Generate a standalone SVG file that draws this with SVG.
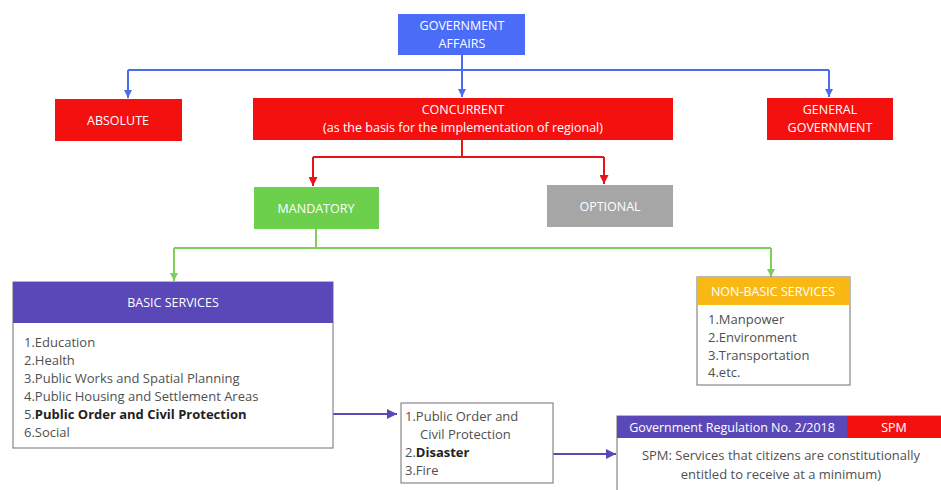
<svg xmlns="http://www.w3.org/2000/svg" width="941" height="490" viewBox="0 0 941 490">
<defs>
<style>
text{font-family:"Open Sans","Liberation Sans",sans-serif;}
.hd{fill:#ffffff;font-size:12.5px;text-anchor:middle;}
.it{fill:#505050;font-size:13px;}
.b{font-weight:bold;fill:#222222;}
.box{fill:#ffffff;stroke:#888888;stroke-width:1.2;}
.cb{stroke:#4a6cf0;stroke-width:2;fill:none;}
.cr{stroke:#e8141b;stroke-width:2;fill:none;}
.cg{stroke:#7ccf5a;stroke-width:2;fill:none;}
.cp{stroke:#5a48b8;stroke-width:2.2;fill:none;}
</style>
<marker id="ar" viewBox="0 0 10 10" refX="10" refY="5" markerWidth="9" markerHeight="9" markerUnits="userSpaceOnUse" orient="auto"><path d="M0,0L10,5L0,10z" fill="#e8141b"/></marker>
<marker id="ag" viewBox="0 0 10 10" refX="10" refY="5" markerWidth="8" markerHeight="8" markerUnits="userSpaceOnUse" orient="auto"><path d="M0,0L10,5L0,10z" fill="#7ccf5a"/></marker>
<marker id="ap" viewBox="0 0 10 10" refX="10" refY="5" markerWidth="10" markerHeight="10" markerUnits="userSpaceOnUse" orient="auto"><path d="M0,0L10,5L0,10z" fill="#5a48b8"/></marker>
<marker id="abl" viewBox="0 0 10 10" refX="10" refY="5" markerWidth="8" markerHeight="8" markerUnits="userSpaceOnUse" orient="auto"><path d="M0,0L10,5L0,10z" fill="#4a6cf0"/></marker>
</defs>
<rect width="941" height="490" fill="#ffffff"/>
<g id="connectors">
<path class="cb" d="M462,55V70"/>
<path class="cb" d="M128,70H829"/>
<path class="cb" d="M128,70V98" marker-end="url(#abl)"/>
<path class="cb" d="M462,70V97" marker-end="url(#abl)"/>
<path class="cb" d="M829,70V97" marker-end="url(#abl)"/>
<path class="cr" d="M462,140V157"/>
<path class="cr" d="M313,157H604"/>
<path class="cr" d="M313,157V186" marker-end="url(#ar)"/>
<path class="cr" d="M604,157V184" marker-end="url(#ar)"/>
<path class="cg" d="M316,229V248"/>
<path class="cg" d="M174,248H771"/>
<path class="cg" d="M174,248V281" marker-end="url(#ag)"/>
<path class="cg" d="M771,248V277" marker-end="url(#ag)"/>
<path class="cp" d="M255,414H397" marker-end="url(#ap)"/>
<path class="cp" d="M494,454H616" marker-end="url(#ap)"/>
</g>
<g id="government-affairs">
<rect x="398" y="14" width="127" height="41" fill="#4a6cf7"/>
<text class="hd" x="462" y="30">GOVERNMENT</text>
<text class="hd" x="462" y="48">AFFAIRS</text>
</g>
<g id="absolute">
<rect x="55" y="99" width="127" height="42" fill="#f51010"/>
<text class="hd" x="118" y="125">ABSOLUTE</text>
</g>
<g id="concurrent">
<rect x="253" y="98" width="420" height="42" fill="#f51010"/>
<text class="hd" x="463" y="114">CONCURRENT</text>
<text class="hd" x="463" y="132">(as the basis for the implementation of regional)</text>
</g>
<g id="general-government">
<rect x="767" y="98" width="126" height="42" fill="#f51010"/>
<text class="hd" x="830" y="114">GENERAL</text>
<text class="hd" x="830" y="132">GOVERNMENT</text>
</g>
<g id="mandatory">
<rect x="254" y="187" width="125" height="42" fill="#6cd04c"/>
<text class="hd" x="316" y="213">MANDATORY</text>
</g>
<g id="optional">
<rect x="547" y="185" width="126" height="42" fill="#a6a6a6"/>
<text class="hd" x="610" y="211">OPTIONAL</text>
</g>
<g id="basic-services">
<rect class="box" x="13" y="282" width="320" height="166"/>
<rect x="13" y="282" width="320" height="41" fill="#5a48b8"/>
<text class="hd" x="173" y="307">BASIC SERVICES</text>
<text class="it" x="24" y="347">1.Education</text>
<text class="it" x="24" y="365">2.Health</text>
<text class="it" x="24" y="383">3.Public Works and Spatial Planning</text>
<text class="it" x="24" y="401">4.Public Housing and Settlement Areas</text>
<text class="it" x="24" y="419">5.<tspan class="b">Public Order and Civil Protection</tspan></text>
<text class="it" x="24" y="437">6.Social</text>
</g>
<g id="non-basic-services">
<rect class="box" x="697" y="277" width="153" height="108"/>
<rect x="697" y="277" width="153" height="28" fill="#f9b814"/>
<text class="hd" x="773" y="296">NON-BASIC SERVICES</text>
<text class="it" x="708" y="324">1.Manpower</text>
<text class="it" x="708" y="342">2.Environment</text>
<text class="it" x="708" y="360">3.Transportation</text>
<text class="it" x="708" y="377">4.etc.</text>
</g>
<g id="sub-list">
<rect class="box" x="401" y="403" width="152" height="80"/>
<text class="it" x="405" y="421">1.Public Order and</text>
<text class="it" x="420" y="439">Civil Protection</text>
<text class="it" x="405" y="457">2.<tspan class="b">Disaster</tspan></text>
<text class="it" x="405" y="475">3.Fire</text>
</g>
<g id="regulation">
<rect class="box" x="617" y="416" width="330" height="80"/>
<rect x="617" y="416" width="230" height="22" fill="#5a48b8"/>
<rect x="847" y="416" width="94" height="22" fill="#f51010"/>
<text class="hd" x="732" y="432">Government Regulation No. 2/2018</text>
<text class="hd" x="894" y="432">SPM</text>
<text class="it" x="781" y="460" text-anchor="middle">SPM: Services that citizens are constitutionally</text>
<text class="it" x="781" y="479" text-anchor="middle">entitled to receive at a minimum)</text>
</g>
</svg>
